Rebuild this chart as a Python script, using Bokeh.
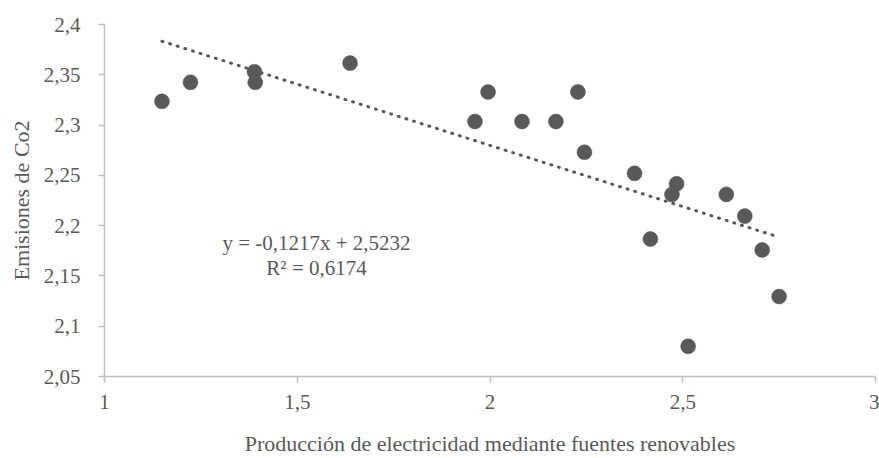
from bokeh.plotting import figure
from bokeh.models import Range1d, FixedTicker, CustomJSTickFormatter, Label, ColumnDataSource
from bokeh.embed import file_html
from bokeh.resources import INLINE

# Data
renovables = [1.149, 1.223, 1.389, 1.391, 1.637, 1.961, 1.995, 2.083, 2.171, 2.228,
              2.245, 2.375, 2.416, 2.472, 2.484, 2.514, 2.613, 2.661, 2.706, 2.750]
emisiones = [2.3236, 2.3425, 2.353, 2.3425, 2.3616, 2.3035, 2.3329, 2.3035, 2.3035, 2.333,
             2.273, 2.252, 2.1867, 2.231, 2.2416, 2.080, 2.231, 2.2095, 2.1758, 2.1295]
slope = -0.1217
intercept = 2.5232
r2_text = "R² = 0,6174"
eq_text = "y = -0,1217x + 2,5232"
x_ticks = [1, 1.5, 2, 2.5, 3]
y_ticks = [2.05, 2.1, 2.15, 2.2, 2.25, 2.3, 2.35, 2.4]
x_title = "Producción de electricidad mediante fuentes renovables"
y_title = "Emisiones de Co2"

FONT = "Liberation Serif"
GREY = "#595959"

p = figure(width=879, height=458, output_backend="svg", toolbar_location=None,
           x_range=Range1d(1, 3), y_range=Range1d(2.05, 2.4),
           min_border_left=104, min_border_right=4, min_border_top=24, min_border_bottom=81)
p.outline_line_color = None
p.xgrid.visible = False
p.ygrid.visible = False
p.background_fill_color = "white"
p.border_fill_color = "white"

fmt = CustomJSTickFormatter(code="""
var s = tick.toFixed(2).replace(/0+$/, '').replace(/\\.$/, '');
return s.replace('.', ',');
""")

for ax, ticks, title in ((p.xaxis[0], x_ticks, x_title), (p.yaxis[0], y_ticks, y_title)):
    ax.ticker = FixedTicker(ticks=ticks)
    ax.formatter = fmt
    ax.axis_line_color = "#BFBFBF"
    ax.axis_line_width = 1.5
    ax.major_tick_line_color = "#BFBFBF"
    ax.major_tick_line_width = 1.5
    ax.major_tick_in = 0
    ax.major_tick_out = 6
    ax.minor_tick_line_color = None
    ax.major_label_text_font = FONT
    ax.major_label_text_font_size = "21px"
    ax.major_label_text_color = GREY
    ax.axis_label = title
    ax.axis_label_text_font = FONT
    ax.axis_label_text_font_size = "22px"
    ax.axis_label_text_font_style = "normal"
    ax.axis_label_text_color = GREY

p.xaxis[0].major_label_standoff = 12
p.xaxis[0].axis_label_standoff = 19
p.yaxis[0].major_label_standoff = 18
p.yaxis[0].axis_label_standoff = 7

# trendline
tx = [min(renovables), max(renovables)]
ty = [slope * v + intercept for v in tx]
p.line(tx, ty, line_color=GREY, line_width=3, line_dash="1 7", line_cap="round")

src = ColumnDataSource(dict(x=renovables, y=emisiones))
p.scatter("x", "y", source=src, size=15, fill_color=GREY, line_color=GREY, line_width=0.5)

p.add_layout(Label(x=1.55, y=2.183, text=eq_text, text_align="center", text_baseline="middle",
                   text_font=FONT, text_font_size="21px", text_color=GREY))
p.add_layout(Label(x=1.55, y=2.158, text=r2_text, text_align="center", text_baseline="middle",
                   text_font=FONT, text_font_size="21px", text_color=GREY))

open("out.html", "w").write(file_html(p, INLINE))
